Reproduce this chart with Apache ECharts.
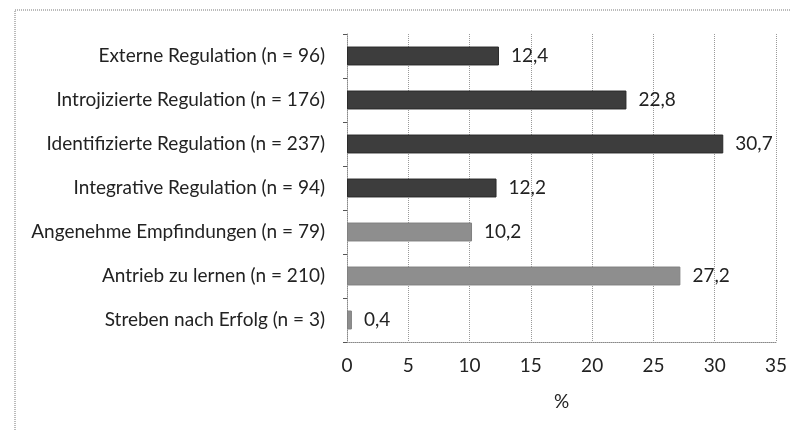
<!DOCTYPE html>
<html>
<head>
<meta charset="utf-8">
<script src="https://cdn.jsdelivr.net/npm/echarts@6/dist/echarts.min.js"></script>
<style>html,body{margin:0;padding:0;background:#fff}#c{width:790px;height:430px}</style>
</head>
<body>
<div id="c"></div>
<script>
const categories = [
  "Externe Regulation (n = 96)",
  "Introjizierte Regulation (n = 176)",
  "Identifizierte Regulation (n = 237)",
  "Integrative Regulation (n = 94)",
  "Angenehme Empfindungen (n = 79)",
  "Antrieb zu lernen (n = 210)",
  "Streben nach Erfolg (n = 3)"
];
const values = [12.4, 22.8, 30.7, 12.2, 10.2, 27.2, 0.4];
const groups = ["dark", "dark", "dark", "dark", "light", "light", "light"];
const xTicks = [0, 5, 10, 15, 20, 25, 30, 35];
const colors = { dark: "#3d3d3d", light: "#8e8e8e" };
const FONT = "Lato";
const FS = 19;

const chart = echarts.init(document.getElementById('c'));
chart.setOption({
  animation: false,
  backgroundColor: '#fff',
  graphic: [{
    type: 'rect',
    shape: { x: 15, y: 10, width: 800, height: 440 },
    style: { fill: 'none', stroke: '#777', lineWidth: 1, lineDash: [1, 1] },
    silent: true
  }],
  grid: { left: 347, right: 13, top: 34, bottom: 88, containLabel: false },
  xAxis: {
    type: 'value',
    min: xTicks[0],
    max: xTicks[xTicks.length - 1],
    interval: 5,
    name: '%',
    nameLocation: 'middle',
    nameGap: 50,
    nameTextStyle: { fontFamily: FONT, fontSize: FS, color: '#222' },
    axisLine: { show: true, lineStyle: { color: '#888', type: [1, 1] } },
    axisTick: { show: false },
    axisLabel: { fontFamily: FONT, fontSize: FS, color: '#222', margin: 14 },
    splitLine: { show: true, lineStyle: { color: '#999', type: [1, 1] } }
  },
  yAxis: {
    type: 'category',
    data: categories,
    inverse: true,
    axisLine: { show: true, lineStyle: { color: '#888', type: [1, 1] } },
    axisTick: { show: true, length: 4, inside: false, lineStyle: { color: '#555' } },
    axisLabel: { fontFamily: FONT, fontSize: FS, color: '#222', margin: 22 }
  },
  series: [{
    type: 'bar',
    barWidth: '43%',
    data: values.map((v, i) => ({
      value: v,
      itemStyle: { color: colors[groups[i]], borderColor: groups[i] === 'dark' ? '#2a2a2a' : '#808080', borderWidth: 1 }
    })),
    label: {
      show: true,
      position: 'right',
      distance: 12,
      fontFamily: FONT,
      fontSize: FS,
      color: '#222',
      formatter: p => String(p.value).replace('.', ',')
    }
  }]
});
</script>
</body>
</html>
